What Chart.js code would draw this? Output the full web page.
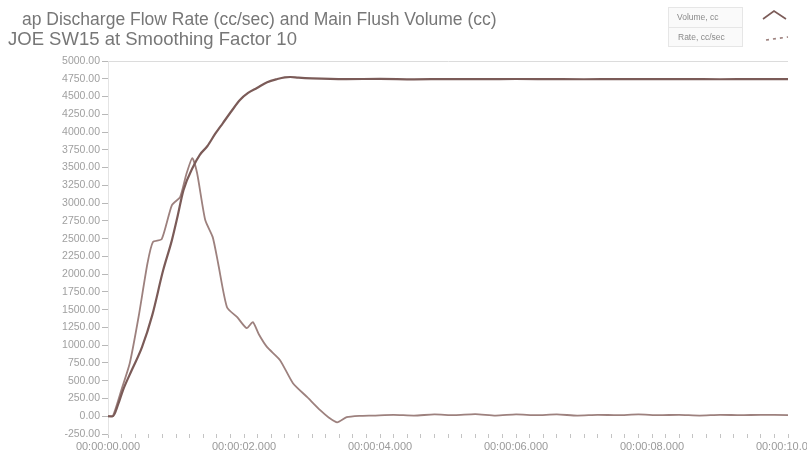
<!DOCTYPE html>
<html>
<head>
<meta charset="utf-8">
<title>Discharge Flow Rate and Flush Volume</title>
<script src="https://cdn.jsdelivr.net/npm/chart.js@4.4.1/dist/chart.umd.min.js"></script>
<style>
    html, body { margin: 0; padding: 0; background: #fff; overflow: hidden; }
    #wrap { position: relative; width: 840px; height: 460px; }
</style>
</head>
<body>
<div id="wrap"><canvas id="flow-chart" width="840" height="460"></canvas></div>
<script>
// Datos (tiempo en segundos)
const volumeTimes = [0, 0.07, 0.15, 0.22, 0.35, 0.5, 0.65, 0.81, 0.94, 1.02, 1.11, 1.25, 1.35, 1.46, 1.58, 1.69, 1.82, 1.94, 2.06, 2.19, 2.34, 2.49, 2.6, 2.68, 2.8, 3.0, 3.5, 4.0, 4.5, 5.0, 5.5, 6.0, 6.5, 7.0, 7.5, 8.0, 8.5, 9.0, 9.5, 10.0];
const volumeValues = [0, 0, 170, 366, 650, 972, 1420, 2050, 2479, 2800, 3183, 3507, 3680, 3800, 3980, 4127, 4300, 4451, 4550, 4620, 4700, 4746, 4770, 4775, 4765, 4755, 4745, 4748, 4742, 4746, 4744, 4747, 4745, 4743, 4746, 4744, 4745, 4743, 4745, 4744];

const rateTimes = [0, 0.07, 0.2, 0.32, 0.45, 0.58, 0.66, 0.79, 0.94, 1.06, 1.15, 1.24, 1.31, 1.43, 1.54, 1.62, 1.75, 1.9, 2.04, 2.13, 2.22, 2.34, 2.53, 2.72, 2.93, 3.12, 3.25, 3.37, 3.51, 3.7, 3.9, 4.2, 4.5, 4.8, 5.1, 5.4, 5.7, 6.0, 6.3, 6.6, 6.9, 7.2, 7.5, 7.8, 8.1, 8.4, 8.7, 9.0, 9.3, 9.6, 10.0];
const rateValues = [0, 0, 380, 746, 1400, 2150, 2451, 2493, 2972, 3085, 3400, 3634, 3423, 2761, 2521, 2150, 1535, 1394, 1239, 1324, 1150, 972, 789, 465, 268, 85, -20, -85, -14, 5, 10, 20, 10, 25, 15, 30, 10, 25, 15, 25, 10, 20, 15, 25, 15, 20, 10, 20, 15, 20, 15];

const xTickLabels = ['00:00:00.000', '00:00:02.000', '00:00:04.000', '00:00:06.000', '00:00:08.000', '00:00:10.000'];

const titleLines = ['ap Discharge Flow Rate (cc/sec) and Main Flush Volume (cc)', 'JOE SW15 at Smoothing Factor 10'];
const legendLabels = ['Volume, cc', 'Rate, cc/sec'];

const colorVolume = '#7b5b58';
const colorRate = '#9d817e';
const fontFamily = '"Liberation Sans", Arial, sans-serif';

function toPoints(times, values) {
    return times.map((t, i) => ({ x: t, y: values[i] }));
}

// Titulo y leyenda dibujados a mano
const decoPlugin = {
    id: 'deco',
    afterDraw(chart) {
        const ctx = chart.ctx;
        ctx.save();
        ctx.fillStyle = '#777';
        ctx.textBaseline = 'middle';
        ctx.font = '17.5px ' + fontFamily;
        ctx.fillText(titleLines[0], 22, 20);
        ctx.font = '18.5px ' + fontFamily;
        ctx.fillText(titleLines[1], 8, 40);

        // cajas de leyenda
        ctx.fillStyle = '#fafafa';
        ctx.fillRect(668, 7, 75, 40);
        ctx.strokeStyle = '#e6e6e6';
        ctx.lineWidth = 1;
        ctx.strokeRect(668.5, 7.5, 74, 20);
        ctx.strokeRect(668.5, 27.5, 74, 19);
        ctx.fillStyle = '#8a8a8a';
        ctx.font = '8.5px ' + fontFamily;
        ctx.fillText(legendLabels[0], 677, 18);
        ctx.fillText(legendLabels[1], 678, 38);

        ctx.strokeStyle = colorVolume;
        ctx.lineWidth = 1.6;
        ctx.beginPath();
        ctx.moveTo(763, 19);
        ctx.lineTo(774, 11);
        ctx.lineTo(786, 19);
        ctx.stroke();
        ctx.strokeStyle = colorRate;
        ctx.setLineDash([3, 4]);
        ctx.beginPath();
        ctx.moveTo(766, 40);
        ctx.lineTo(788, 37);
        ctx.stroke();
        ctx.restore();
    }
};

new Chart(document.getElementById('flow-chart'), {
    type: 'line',
    data: {
        datasets: [{
            label: legendLabels[0],
            data: toPoints(volumeTimes, volumeValues),
            borderColor: colorVolume,
            borderWidth: 2.2,
            pointRadius: 0,
            tension: 0.3,
            cubicInterpolationMode: 'monotone'
        }, {
            label: legendLabels[1],
            data: toPoints(rateTimes, rateValues),
            borderColor: colorRate,
            borderWidth: 1.8,
            pointRadius: 0,
            tension: 0.2
        }]
    },
    options: {
        responsive: false,
        animation: false,
        layout: { padding: { left: 0, right: 52, top: 61, bottom: 0 } },
        plugins: {
            legend: { display: false },
            tooltip: { enabled: false }
        },
        scales: {
            x: {
                type: 'linear',
                min: 0,
                max: 10,
                afterFit: scale => { scale.height = 26; },
                afterBuildTicks: scale => {
                    const ticks = [];
                    for (let i = 0; i <= 50; i++) ticks.push({ value: i * 0.2 });
                    scale.ticks = ticks;
                },
                border: { display: false },
                grid: {
                    drawOnChartArea: false,
                    tickLength: 4,
                    color: '#c4c4c4'
                },
                ticks: {
                    autoSkip: false,
                    maxRotation: 0,
                    padding: 2,
                    color: '#9a9a9a',
                    font: { family: fontFamily, size: 11 },
                    callback: function(value) {
                        const k = Math.round(value / 2);
                        if (Math.abs(value - k * 2) < 1e-6) return xTickLabels[k];
                        return '';
                    }
                }
            },
            y: {
                min: -250,
                max: 5000,
                afterFit: scale => { scale.width = 108; },
                border: { display: true, color: '#e4e4e4' },
                grid: {
                    drawOnChartArea: true,
                    tickLength: 6,
                    color: ctx => (ctx.tick && ctx.tick.value === 5000) ? '#dcdcdc' : 'rgba(0,0,0,0)',
                    tickColor: '#b8b8b8'
                },
                ticks: {
                    stepSize: 250,
                    padding: 2,
                    color: '#a0a0a0',
                    font: { family: fontFamily, size: 10.5 },
                    callback: value => value.toFixed(2)
                }
            }
        }
    },
    plugins: [decoPlugin]
});
</script>
</body>
</html>
